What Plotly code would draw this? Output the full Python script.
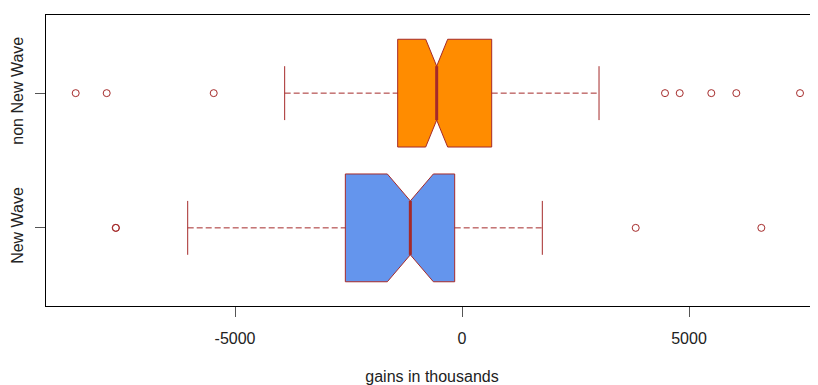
import plotly.graph_objects as go

# ---- data ----
categories = ["New Wave", "non New Wave"]
positions = [0, 1]
q1 = [-2570, -1417]
median = [-1138, -558]
q3 = [-161, 654]
lower_whisker = [-6042, -3906]
upper_whisker = [1769, 3018]
notch_span = [507, 242]
outliers = [
    [-7628, -7622, 3826, 6593],
    [-8509, -7826, -5469, 4471, 4795, 5491, 6042, 7445],
]
fill_colors = ["#6495ED", "#FF8C00"]
x_tick_vals = [-5000, 0, 5000]
x_tick_text = ["-5000", "0", "5000"]

border = "#A52A2A"
box_width = 0.8
half_staple = 0.2

fig = go.Figure()

for i, cat in enumerate(categories):
    p = positions[i]
    # dashed whiskers
    fig.add_trace(go.Scatter(
        x=[lower_whisker[i], q1[i], None, q3[i], upper_whisker[i]],
        y=[p, p, None, p, p], mode="lines",
        line=dict(color=border, width=1, dash="6px,3px"),
        showlegend=False, hoverinfo="skip"))
    # staples
    fig.add_trace(go.Scatter(
        x=[lower_whisker[i], lower_whisker[i], None, upper_whisker[i], upper_whisker[i]],
        y=[p - half_staple, p + half_staple, None, p - half_staple, p + half_staple],
        mode="lines", line=dict(color=border, width=1),
        showlegend=False, hoverinfo="skip"))
    # notched box
    fig.add_trace(go.Box(
        orientation="h", y=[p], name=cat,
        q1=[q1[i]], median=[median[i]], q3=[q3[i]],
        lowerfence=[q1[i]], upperfence=[q3[i]],
        notched=True, notchspan=[notch_span[i]], notchwidth=0.25,
        width=box_width, whiskerwidth=0,
        fillcolor=fill_colors[i], line=dict(color=border, width=1),
        boxpoints=False, showlegend=False, hoverinfo="skip"))
    # thick median
    fig.add_trace(go.Scatter(
        x=[median[i], median[i]], y=[p - half_staple, p + half_staple],
        mode="lines", line=dict(color=border, width=3),
        showlegend=False, hoverinfo="skip"))
    # outliers
    fig.add_trace(go.Scatter(
        x=outliers[i], y=[p] * len(outliers[i]), mode="markers",
        marker=dict(symbol="circle-open", size=7, color=border,
                    line=dict(width=1, color=border)),
        showlegend=False))

font = dict(family="Liberation Sans, Arial, sans-serif", size=16, color="#222222")

# the page body has an 8px margin, so the figure is sized/offset to compensate
fig.update_layout(
    width=810, height=377,
    margin=dict(l=38, r=0, t=7, b=79),
    plot_bgcolor="white", paper_bgcolor="white",
    font=font, showlegend=False,
    xaxis=dict(
        range=[-9163, 7841], tickvals=x_tick_vals, ticktext=x_tick_text,
        ticks="outside", ticklen=10, tickcolor="#555555", tickwidth=1,
        ticklabelstandoff=8,
        showgrid=False, zeroline=False, automargin=False,
        showline=True, mirror=True, linecolor="black", linewidth=1,
        title=dict(text="gains in thousands", standoff=27, font=font),
    ),
    yaxis=dict(
        range=[-0.58, 1.58], tickvals=positions, ticktext=categories,
        tickangle=-90, ticks="outside", ticklen=10, tickcolor="#555555",
        ticklabelstandoff=6,
        showgrid=False, zeroline=False, automargin=False,
        showline=True, linecolor="black", linewidth=1,
    ),
)

fig.write_html("out.html")
